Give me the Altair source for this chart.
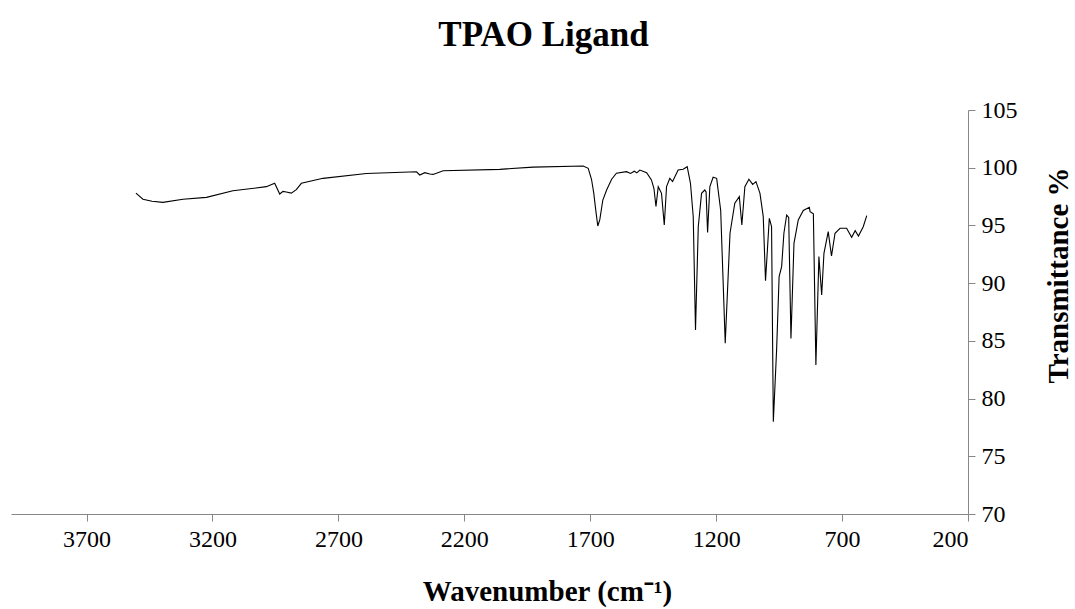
import altair as alt
import pandas as pd

wavenumber = [3504, 3476, 3440, 3397, 3317, 3224, 3119, 2986, 2953, 2933, 2920, 2907, 2887, 2867,
              2847, 2761, 2589, 2390, 2377, 2357, 2337, 2324, 2284, 2059, 1927, 1728, 1708, 1695, 1686,
              1678, 1670, 1662, 1650, 1635, 1615, 1596, 1556, 1540, 1525, 1515, 1503, 1476, 1457, 1447,
              1439, 1430, 1417, 1406, 1397, 1384, 1373, 1351, 1331, 1315, 1302, 1291, 1282, 1271,
              1258, 1245, 1240, 1234, 1225, 1212, 1198, 1182, 1164, 1145, 1126, 1108, 1098, 1086,
              1070, 1055, 1042, 1026, 1013, 1004, 989, 980, 973, 960, 950, 940, 931, 920, 912,
              903, 891, 874, 854, 830, 827, 814, 804, 792, 781, 772, 755, 742, 728, 708, 682,
              662, 648, 635, 616, 602]
transmittance = [97.8, 97.27, 97.1, 97.0, 97.27, 97.43, 98.0, 98.36, 98.65, 97.72, 97.95, 97.9, 97.8, 98.1,
                 98.65, 99.08, 99.5, 99.65, 99.37, 99.57, 99.45, 99.42, 99.74, 99.86, 100.05, 100.15, 99.95, 99.0, 97.8,
                 96.3, 94.95, 95.5, 97.2, 98.07, 99.0, 99.52, 99.66, 99.5, 99.7, 99.55, 99.8, 99.57, 98.94, 98.2,
                 96.64, 98.36, 97.78, 95.04, 98.36, 99.08, 98.8, 99.8, 99.86, 100.09, 98.65, 95.76, 85.94, 94.89,
                 97.78, 98.07, 97.9, 94.38, 98.36, 99.17, 99.08, 96.3, 84.79, 94.32, 96.92, 97.49, 95.04, 98.36,
                 99.0, 98.56, 98.8, 97.78, 95.76, 90.2, 95.61, 94.89, 78.0, 84.2, 90.56, 91.43, 94.32, 95.9, 95.7,
                 85.2, 93.45, 95.47, 96.3, 96.57, 96.2, 96.0, 82.9, 92.3, 88.97, 92.58, 94.46, 92.35, 94.32, 94.75, 94.75,
                 93.97, 94.55, 94.08, 94.89, 95.85]

x_ticks = [3700, 3200, 2700, 2200, 1700, 1200, 700, 200]
y_ticks = [70, 75, 80, 85, 90, 95, 100, 105]

df = pd.DataFrame({"wn": wavenumber, "T": transmittance})

FONT = "Liberation Serif"
AXIS_COLOR = "#878787"

chart = alt.Chart(df).mark_line(color="black", strokeWidth=1.1).encode(
    x=alt.X("wn:Q",
            scale=alt.Scale(domain=[200, 4000], reverse=True, nice=False, zero=False),
            axis=alt.Axis(values=x_ticks, format="d", title="Wavenumber (cm⁻¹)", grid=False,
                          domainColor=AXIS_COLOR, tickColor=AXIS_COLOR, tickSize=7,
                          labelFont=FONT, labelFontSize=24, labelColor="black", labelPadding=6,
                          titleFont=FONT, titleFontSize=29, titleFontWeight="bold", titleColor="black",
                          titleX=536, titleY=77, titleBaseline="middle", titleAnchor="start", titleAlign="center")),
    y=alt.Y("T:Q",
            scale=alt.Scale(domain=[70, 105], nice=False, zero=False),
            axis=alt.Axis(orient="right", values=y_ticks, format="d", title="Transmittance %", grid=False,
                          domainColor=AXIS_COLOR, tickColor=AXIS_COLOR, tickSize=7,
                          labelFont=FONT, labelFontSize=24, labelColor="black", labelPadding=6,
                          titleFont=FONT, titleFontSize=29, titleFontWeight="bold", titleColor="black",
                          titleAngle=270, titleX=90, titleY=165, titleBaseline="middle", titleAlign="center")),
).properties(
    width=957,
    height=404,
    title=alt.TitleParams("TPAO Ligand", font=FONT, fontSize=35, fontWeight="bold", color="black",
                          anchor="middle", frame="group", dx=54, offset=45),
    autosize=alt.AutoSizeParams(type="none"),
    padding={"left": 11, "top": 110, "right": 107, "bottom": 95},
).configure_view(stroke=None)

chart.save("out.html", embed_options={"renderer": "svg", "actions": False})
